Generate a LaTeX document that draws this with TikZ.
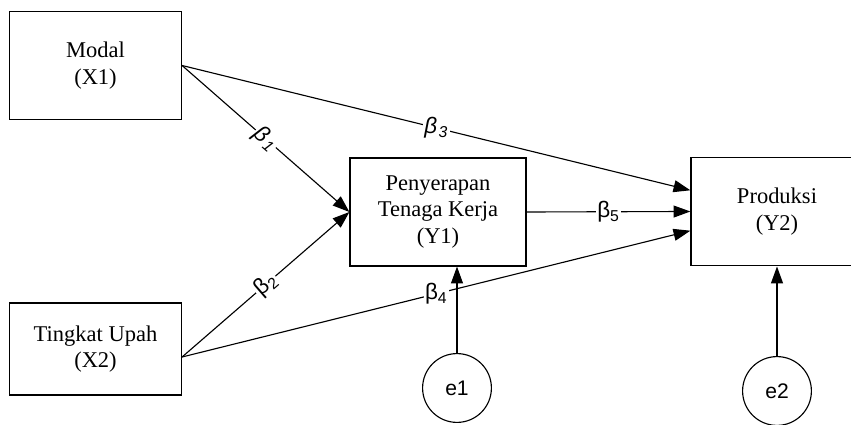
\documentclass[tikz,border=0pt]{standalone}
\usepackage{fontspec}
\setmainfont{Liberation Serif}
\newfontfamily\lblfont{Liberation Sans}
\usetikzlibrary{arrows.meta,calc}
\newcommand{\bcoef}[1]{{\lblfont β\textsubscript{#1}}}
\newcommand{\bcoefit}[1]{{\lblfont\itshape β\kern1pt\textsubscript{#1}}}

\begin{document}
\begin{tikzpicture}[x=0.025cm,y=-0.025cm]
\tikzstyle{var}=[draw,line width=0.8pt,align=center,font=\fontsize{16}{19}\selectfont,
  minimum width=4.3cm,inner sep=0pt]
\tikzstyle{err}=[draw,circle,line width=0.8pt,minimum size=1.72cm,
  font=\lblfont\fontsize{15}{18}\selectfont]
\tikzstyle{path}=[line width=0.8pt,-{Triangle[length=12pt,width=8.5pt]}]
\tikzstyle{coef}=[fill=white,inner sep=1pt,font=\fontsize{16}{18}\selectfont]
\useasboundingbox (0,0) rectangle (851,425);
%exogenous
\node[var,minimum height=2.68cm] (modal) at (95.5,65.5) {Modal\\(X1)};
\node[var,minimum height=2.3cm] (upah) at (95.5,349) {Tingkat Upah\\(X2)};
%endogenous
\node[var,minimum width=4.4cm,minimum height=2.7cm] (kerja) at (438,212) {Penyerapan\\Tenaga Kerja\\(Y1)};
\node[var,minimum height=2.72cm] (prod) at (777,211.5) {Produksi\\(Y2)};
%errors
\node[err] (e1) at (457,388) {e1};
\node[err] (e2) at (777,391) {e2};
\coordinate (upahout) at ([yshift=-0.2cm]upah.east);
\draw[path] (modal.east) -- node[coef,sloped] {\bcoefit{1}} (kerja.west);
\draw[path] (upahout) -- node[coef,sloped] {\bcoef{2}} (kerja.west);
\draw[path] (modal.east) -- node[coef] {\bcoefit{3}} ([yshift=0.53cm]prod.west);
\draw[path] (upahout) -- node[coef] {\bcoef{4}} ([yshift=-0.48cm]prod.west);
\draw[path] (kerja.east) -- node[coef] {\bcoef{5}} (prod.west);
\draw[path] (e1.north) -- (e1 |- kerja.south);
\draw[path] (e2.north) -- (prod.south);
\end{tikzpicture}
\end{document}
